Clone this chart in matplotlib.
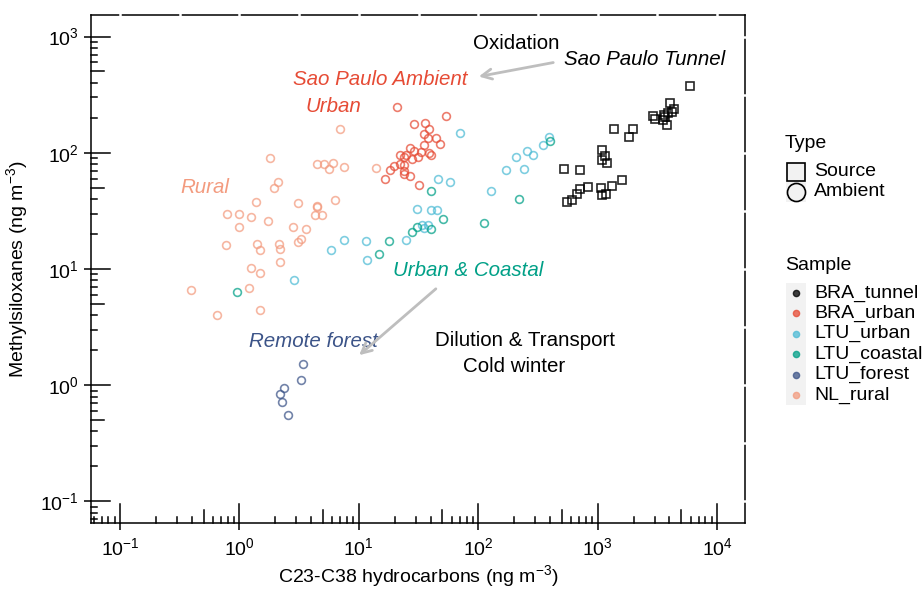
import matplotlib
matplotlib.use("Agg")
import matplotlib.pyplot as plt
import numpy as np
from matplotlib.lines import Line2D
from matplotlib.patches import Rectangle
from matplotlib.ticker import LogLocator, LogFormatterMathtext, NullLocator

plt.rcParams['font.family'] = ['Liberation Sans', 'DejaVu Sans']
plt.rcParams['mathtext.fontset'] = 'custom'
plt.rcParams['mathtext.rm'] = 'Liberation Sans'
plt.rcParams['mathtext.it'] = 'Liberation Sans:italic'

# hydrocarbons (x) / methylsiloxanes (y), ng m-3
bra_tunnel_x = [5900, 4020, 4390, 4180, 3860, 3580, 2890, 3020, 3550, 3790, 3690,
                1360, 1970, 1840, 1080, 1150, 1095, 1190, 523, 712, 1610, 1310,
                1070, 836, 712, 668, 610, 551, 1090, 1180]
bra_tunnel_y = [373, 268, 238, 226, 219, 211, 208, 194, 191, 173, 204,
                159, 159, 136, 105, 94, 86, 82, 73, 71, 58, 52,
                50, 51, 49, 44, 39, 38, 43, 44]

bra_urban_x = [21, 54, 29, 36, 39, 35, 38, 44, 48, 35, 27, 29, 33, 39, 40,
               31.5, 28, 25, 22, 24, 22, 19.7, 18.3, 24, 24, 27, 24, 16.7, 32]
bra_urban_y = [248, 208, 177, 179, 160, 144, 135, 135, 119, 117, 109, 104, 101, 99, 95,
               92, 88, 96, 95, 92, 80, 77, 71, 78, 70, 63, 66, 60, 53]

ltu_urban_x = [70, 394, 351, 255, 286, 206, 240, 172, 46, 58, 129, 31, 40, 45,
               34, 38, 35, 25, 11.5, 7.5, 5.9, 11.6, 2.85]
ltu_urban_y = [149, 137, 117, 104, 96, 92, 73, 71, 60, 56, 47, 33, 32, 32,
               24, 24, 22.5, 17.7, 17.4, 17.8, 14.5, 12, 8.1]

ltu_coastal_x = [402, 40, 221, 51, 112, 28, 31, 40, 18, 14.8, 0.95]
ltu_coastal_y = [127, 47, 40, 27, 25, 21, 23, 22, 17.5, 13.4, 6.3]

ltu_forest_x = [3.4, 3.26, 2.38, 2.19, 2.27, 2.57]
ltu_forest_y = [1.53, 1.12, 0.94, 0.84, 0.72, 0.55]

nl_rural_x = [6.9, 1.8, 4.5, 5.1, 6.1, 5.6, 7.5, 14, 2.1, 1.96, 1.38, 3.1, 6.3, 4.5, 4.5,
              4.3, 4.9, 0.78, 0.99, 1.24, 1.73, 0.99, 2.8, 3.6, 3.3, 3.1, 0.77, 1.4, 1.5,
              2.15, 2.2, 2.2, 1.26, 1.5, 0.39, 1.2, 0.65, 1.5]
nl_rural_y = [159, 91, 80, 80, 82, 72, 75, 74, 56, 50, 38, 37, 39, 35, 34,
              29, 29, 29.5, 30, 28, 26, 23, 23, 22, 18, 17, 16, 16.5, 14.7,
              16.5, 15, 11.4, 10.1, 9.3, 6.6, 6.8, 4.0, 4.4]

samples = ['BRA_tunnel', 'BRA_urban', 'LTU_urban', 'LTU_coastal', 'LTU_forest', 'NL_rural']
colors = ['#000000', '#E64B35', '#4DBBD5', '#00A087', '#3C5488', '#F39B7F']
ambient = [
    (bra_urban_x, bra_urban_y, colors[1]),
    (ltu_urban_x, ltu_urban_y, colors[2]),
    (ltu_coastal_x, ltu_coastal_y, colors[3]),
    (ltu_forest_x, ltu_forest_y, colors[4]),
    (nl_rural_x, nl_rural_y, colors[5]),
]

W, H = 923, 589
fig = plt.figure(figsize=(W / 100, H / 100), dpi=100)
ax_l, ax_r, ax_t, ax_b = 91, 745, 15, 523
ax = fig.add_axes([ax_l / W, (H - ax_b) / H, (ax_r - ax_l) / W, (ax_b - ax_t) / H])
aw, ah = ax_r - ax_l, ax_b - ax_t

for xs, ys, c in ambient:
    ax.plot(xs, ys, 'o', ms=5.6, mfc='none', mec=c, mew=1.2, alpha=0.72, zorder=3)
ax.plot(bra_tunnel_x, bra_tunnel_y, 's', ms=6, mfc='none', mec='black', mew=1.2, alpha=0.85, zorder=3)

ax.set_xscale('log')
ax.set_yscale('log')
ax.set_xlim(0.0571, 17160)
ax.set_ylim(0.0653, 1531)

for axis in (ax.xaxis, ax.yaxis):
    axis.set_major_locator(LogLocator(base=10, numticks=20))
    axis.set_major_formatter(LogFormatterMathtext())
    axis.set_minor_locator(NullLocator())
ax.tick_params(which='major', direction='out', length=5, width=1.1, labelsize=14, colors='black')
ax.tick_params(axis='x', pad=5)
ax.tick_params(axis='y', pad=4)
for s in ax.spines.values():
    s.set_linewidth(1.1)

# log ticks inside the panel
def tick_len(m):
    return 19 if m == 1 else (13 if m == 5 else 6)

xl, yl = ax.get_xlim(), ax.get_ylim()
for k in range(-2, 5):
    for m in range(1, 10):
        v = m * 10.0 ** k
        if xl[0] <= v <= xl[1]:
            ax.plot([v, v], [0, tick_len(m) / ah], transform=ax.get_xaxis_transform(),
                    color='black', lw=1.1, clip_on=False, zorder=4)
        if yl[0] <= v <= yl[1]:
            ax.plot([0, tick_len(m) / aw], [v, v], transform=ax.get_yaxis_transform(),
                    color='black', lw=1.1, clip_on=False, zorder=4)

# little gaps in the top/right border from the grid lines
for e in np.arange(-1.0, 4.01, 0.5):
    ax.axvline(10 ** e, ymin=0.99, ymax=1.01, color='white', lw=1.8, clip_on=False, zorder=5)
for e in np.arange(-1.0, 3.01, 0.5):
    ax.axhline(10 ** e, xmin=0.99, xmax=1.01, color='white', lw=1.8, clip_on=False, zorder=5)

ax.set_xlabel('C23-C38 hydrocarbons (ng m$^{-3}$)', fontsize=14, labelpad=3)
ax.set_ylabel('Methylsiloxanes (ng m$^{-3}$)', fontsize=14, labelpad=7)

# annotations
fs = 14.8
ax.text(207, 862, 'Oxidation', fontsize=fs, ha='center', va='center')
ax.text(2495, 628, 'Sao Paulo Tunnel', fontsize=fs, style='italic', ha='center', va='center')
ax.text(15.05, 423, 'Sao Paulo Ambient', fontsize=fs, style='italic', color=colors[1], ha='center', va='center')
ax.text(6.08, 252, 'Urban', fontsize=fs, style='italic', color=colors[1], ha='center', va='center')
ax.text(0.515, 49.8, 'Rural', fontsize=fs, style='italic', color=colors[5], ha='center', va='center')
ax.text(82.1, 9.8, 'Urban & Coastal', fontsize=fs, style='italic', color=colors[3], ha='center', va='center')
ax.text(4.13, 2.40, 'Remote forest', fontsize=fs, style='italic', color=colors[4], ha='center', va='center')
ax.text(247, 2.45, 'Dilution & Transport', fontsize=fs, ha='center', va='center')
ax.text(199, 1.46, 'Cold winter', fontsize=fs, ha='center', va='center')
arrow = dict(arrowstyle='->', color='#BEBEBE', lw=2, mutation_scale=18)
ax.annotate('', xy=(95.9, 448), xytext=(448, 603), arrowprops=arrow)
ax.annotate('', xy=(9.66, 1.75), xytext=(46, 7.0), arrowprops=arrow)

# legends (drawn by hand in figure pixels)
def fx(px):
    return px / W

def fy(py):
    return 1 - py / H

fig.patches.append(Rectangle((fx(786), fy(202)), 20 / W, 40 / H, transform=fig.transFigure,
                             facecolor='#F2F2F2', edgecolor='none'))
fig.patches.append(Rectangle((fx(786), fy(405)), 20 / W, 122 / H, transform=fig.transFigure,
                             facecolor='#F2F2F2', edgecolor='none'))
fig.text(fx(785), fy(144), 'Type', fontsize=14, va='center', ha='left')
for i, (lab, mk) in enumerate([('Source', 's'), ('Ambient', 'o')]):
    y = fy(172 + 19.5 * i)
    fig.add_artist(Line2D([fx(796)], [y], marker=mk, ms=13, mfc='none', mec='black', mew=1.2,
                          transform=fig.transFigure))
    fig.text(fx(814), y, lab, fontsize=14, va='center', ha='left')

fig.text(fx(785), fy(265), 'Sample', fontsize=14, va='center', ha='left')
for i, (lab, c) in enumerate(zip(samples, colors)):
    y = fy(293 + 20.4 * i)
    fig.add_artist(Line2D([fx(796)], [y], marker='o', ms=4.5, mfc=c, mec=c, alpha=0.75,
                          transform=fig.transFigure))
    fig.text(fx(814), y, lab, fontsize=14, va='center', ha='left')

fig.savefig('out.png', dpi=100)
